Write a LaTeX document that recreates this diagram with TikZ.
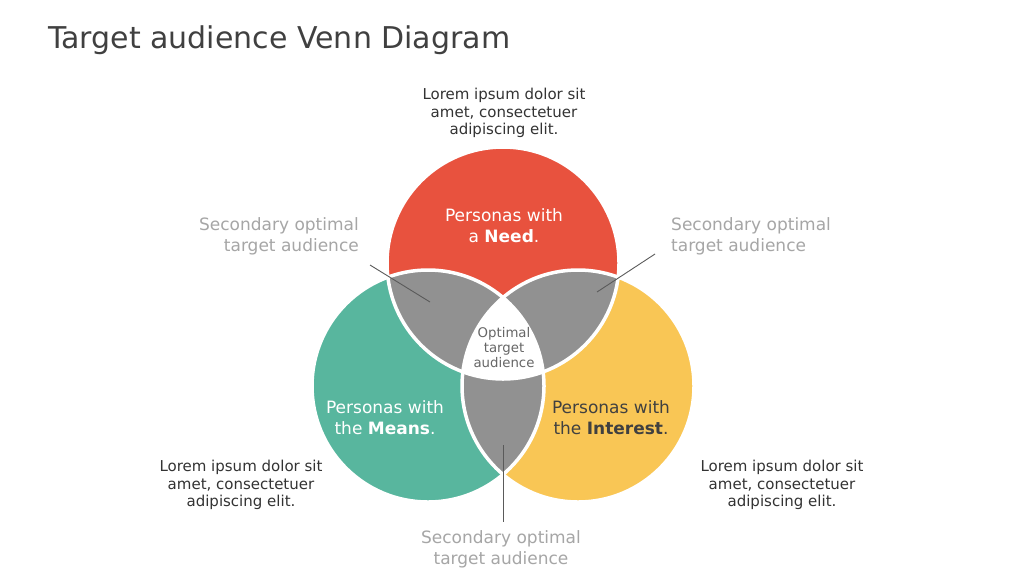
\documentclass[tikz,border=0pt]{standalone}
\usepackage{fontspec}
\setmainfont{DejaVu Sans}
\definecolor{cred}{RGB}{232,82,62}
\definecolor{cgreen}{RGB}{88,182,158}
\definecolor{cyellow}{RGB}{249,198,85}
\definecolor{cgray}{RGB}{145,145,145}
\definecolor{ctitle}{RGB}{64,64,64}
\definecolor{ctext}{RGB}{51,51,51}
\definecolor{csec}{RGB}{166,166,166}
\definecolor{cline}{RGB}{90,90,90}
\tikzset{
  lorem/.style={align=center,text=ctext,font=\fontsize{15}{17.5}\selectfont,inner sep=0pt},
  secbox/.style={text=csec,font=\fontsize{17}{21}\selectfont,inner sep=0pt},
  persona/.style={align=center,font=\fontsize{17}{21}\selectfont,inner sep=0pt},
  optbox/.style={align=center,text=ctitle!80,font=\fontsize{13.3}{15}\selectfont,inner sep=0pt},
  leader/.style={draw=cline,line width=0.9pt},
  rim/.style={draw=white,line width=3.5pt}
}
\begin{document}
\begin{tikzpicture}[x=1pt,y=-1pt]
\useasboundingbox (0,0) rectangle (1024,576);
\fill[white] (0,0) rectangle (1024,576);
\coordinate (cR) at (503,263);
\coordinate (cG) at (428,386);
\coordinate (cY) at (578,386);
\def\rr{116}
% circles
\fill[cred] (cR) circle (\rr);
\fill[cgreen] (cG) circle (\rr);
\fill[cyellow] (cY) circle (\rr);
% pairwise intersections
\begin{scope}\clip (cR) circle (\rr); \fill[cgray] (cG) circle (\rr);\end{scope}
\begin{scope}\clip (cR) circle (\rr); \fill[cgray] (cY) circle (\rr);\end{scope}
\begin{scope}\clip (cG) circle (\rr); \fill[cgray] (cY) circle (\rr);\end{scope}
% triple intersection
\begin{scope}\clip (cR) circle (\rr); \clip (cG) circle (\rr); \fill[white] (cY) circle (\rr);\end{scope}
% rims
\draw[rim] (cR) circle (\rr);
\draw[rim] (cG) circle (\rr);
\draw[rim] (cY) circle (\rr);
% title
\node[anchor=west,text=ctitle,font=\fontsize{30}{34}\selectfont,inner sep=0pt] (title) at (48,40) {Target audience Venn Diagram};
% lorem texts
\node[lorem] (ltop) at (504,113) {Lorem ipsum dolor sit\\amet, consectetuer\\adipiscing elit.};
\node[lorem] (lleft) at (241,485) {Lorem ipsum dolor sit\\amet, consectetuer\\adipiscing elit.};
\node[lorem] (lright) at (782,485) {Lorem ipsum dolor sit\\amet, consectetuer\\adipiscing elit.};
% persona texts
\node[persona,text=white] (pneed) at (504,226) {Personas with\\a \textbf{Need}.};
\node[persona,text=white] (pmeans) at (385,418) {Personas with\\the \textbf{Means}.};
\node[persona,text=ctitle] (pint) at (611,418) {Personas with\\the \textbf{Interest}.};
% optimal
\node[optbox] (opt) at (504,348) {Optimal\\target\\audience};
% secondary labels
\node[secbox,align=right,anchor=east] (sleft) at (359,236) {Secondary optimal\\target audience};
\node[secbox,align=left,anchor=west] (sright) at (671,236) {Secondary optimal\\target audience};
\node[secbox,align=center] (sbot) at (501,549) {Secondary optimal\\target audience};
% leader lines
\coordinate (aL1) at (370,265);
\coordinate (aL2) at (430,302);
\coordinate (aR1) at (655,254);
\coordinate (aR2) at (597,292);
\coordinate (aB1) at (503,445);
\coordinate (aB2) at (503,522);
\draw[leader] (aL1) -- (aL2);
\draw[leader] (aR1) -- (aR2);
\draw[leader] (aB1) -- (aB2);
\end{tikzpicture}
\end{document}
